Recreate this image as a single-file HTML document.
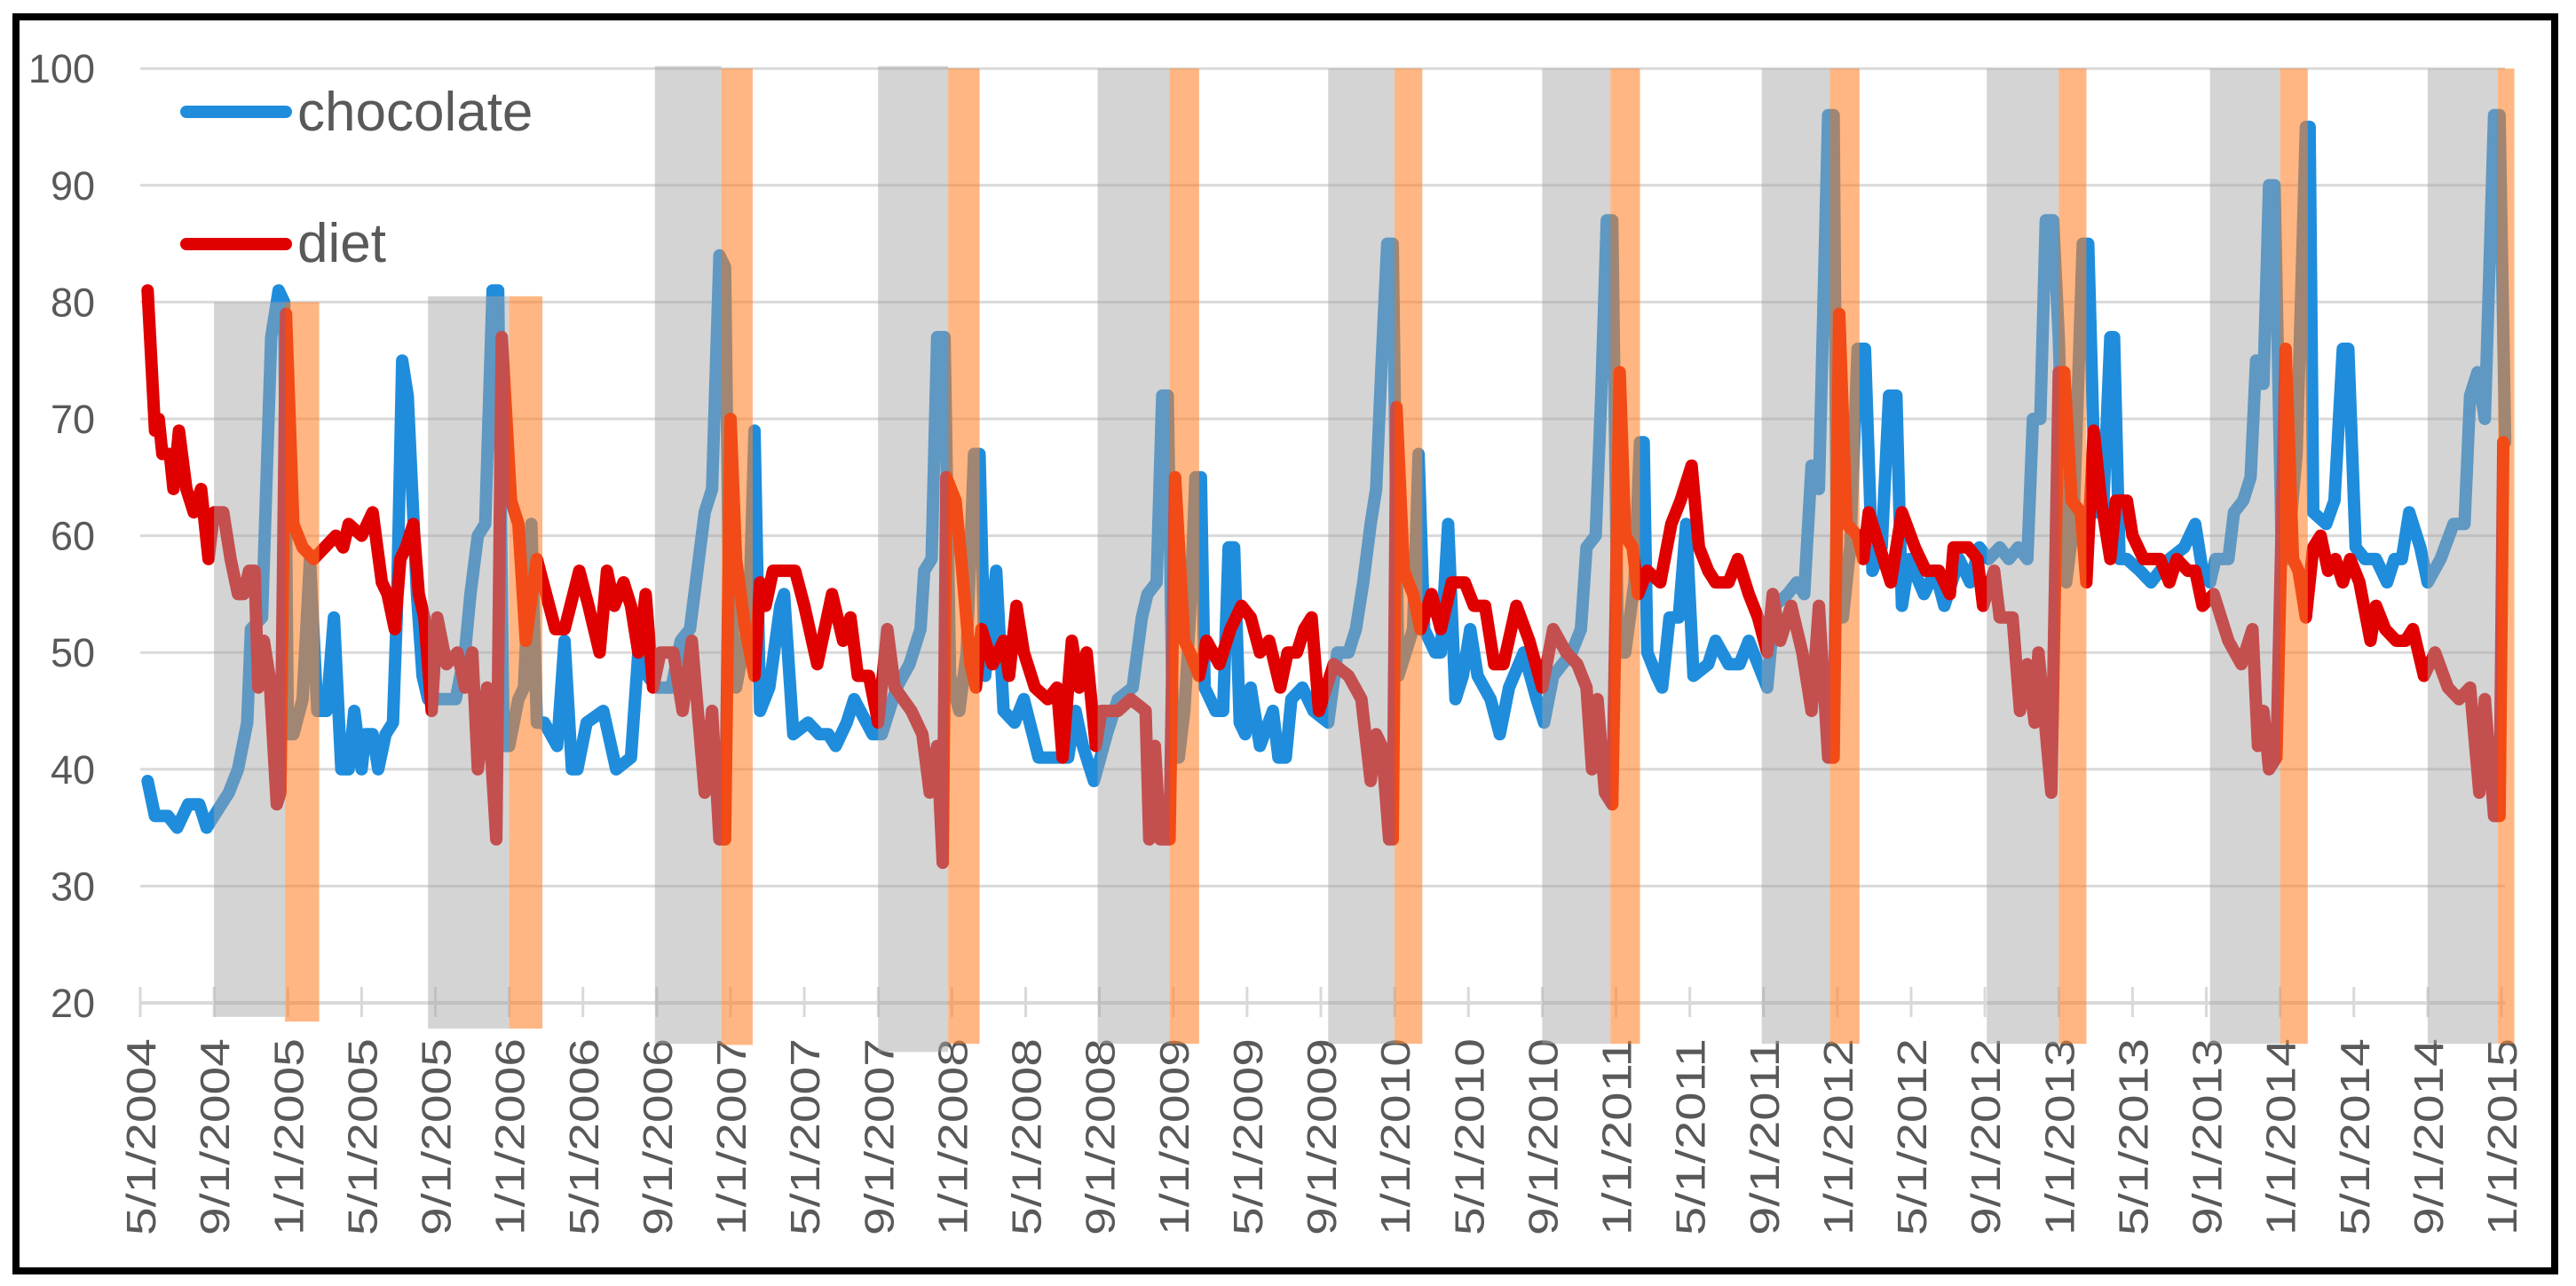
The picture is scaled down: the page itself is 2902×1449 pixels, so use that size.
<!DOCTYPE html>
<html><head><meta charset="utf-8"><style>
html,body{margin:0;padding:0;background:#fff;}
svg{display:block;}
text{font-family:"Liberation Sans",sans-serif;fill:#595959;}
</style></head><body>
<svg id="chart" width="2902" height="1449" viewBox="0 0 2902 1449" xmlns="http://www.w3.org/2000/svg">
<rect x="0" y="0" width="2902" height="1449" fill="#fff"/>
<g id="grid"></g>
<g id="axis"></g>
<g id="ylabels"></g>
<g id="xlabels"></g>
<g id="series"></g>
<g id="bands"></g>
<g id="legend">
  <line x1="210" y1="126" x2="322" y2="126" stroke="#1f8ddc" stroke-width="14" stroke-linecap="round"/>
  <text x="335" y="147" font-size="62">chocolate</text>
  <line x1="210" y1="275" x2="322" y2="275" stroke="#e00000" stroke-width="14" stroke-linecap="round"/>
  <text x="335" y="295" font-size="62">diet</text>
</g>
<rect x="18" y="19" width="2860" height="1413" fill="none" stroke="#000" stroke-width="8"/>
</svg>
<script>
const yTicks = [20,30,40,50,60,70,80,90,100];
const xTickLabels = ["5/1/2004","9/1/2004","1/1/2005","5/1/2005","9/1/2005","1/1/2006","5/1/2006","9/1/2006","1/1/2007","5/1/2007","9/1/2007","1/1/2008","5/1/2008","9/1/2008","1/1/2009","5/1/2009","9/1/2009","1/1/2010","5/1/2010","9/1/2010","1/1/2011","5/1/2011","9/1/2011","1/1/2012","5/1/2012","9/1/2012","1/1/2013","5/1/2013","9/1/2013","1/1/2014","5/1/2014","9/1/2014","1/1/2015"];
// months since 5/1/2004
const chocMonths = [0.4,0.8,1.5,2.0,2.6,3.2,3.6,4.0,4.8,5.3,5.8,6.0,6.6,7.1,7.5,7.8,8.0,8.3,8.8,9.2,9.6,10.1,10.5,10.9,11.3,11.6,12.0,12.2,12.6,12.9,13.3,13.7,13.9,14.2,14.5,15.0,15.3,15.6,16.3,17.1,17.6,17.9,18.3,18.7,19.1,19.4,19.7,20.0,20.5,20.8,21.2,21.5,21.9,22.6,23.0,23.4,23.7,24.2,25.1,25.8,26.6,27.0,27.5,28.0,28.8,29.3,29.8,30.2,30.6,31.0,31.4,31.7,31.9,32.3,33.0,33.3,33.6,34.1,34.7,34.9,35.4,36.2,36.8,37.3,37.7,38.3,38.7,39.7,40.2,41.0,41.7,42.3,42.5,42.9,43.2,43.6,43.9,44.4,44.8,45.2,45.5,45.8,46.4,46.8,47.4,47.9,48.7,49.5,50.3,50.7,51.1,51.7,52.4,53.0,53.8,54.3,54.6,55.1,55.4,55.7,56.0,56.3,56.6,56.9,57.2,57.5,57.7,58.3,58.7,59.0,59.3,59.6,59.9,60.2,60.7,61.4,61.7,62.1,62.4,63.0,63.6,64.4,64.9,65.5,65.9,66.3,66.7,67.0,67.3,67.6,67.9,68.2,68.6,69.0,69.3,69.6,70.2,70.5,70.9,71.3,71.7,72.1,72.5,73.2,73.7,74.2,75.0,75.7,76.1,76.6,77.6,78.1,78.4,78.9,79.2,79.5,79.8,80.1,80.5,81.0,81.3,81.5,81.7,82.2,82.5,82.9,83.4,83.8,84.2,85.0,85.4,86.1,86.7,87.2,87.7,88.2,88.6,89.3,89.8,90.2,90.6,91.0,91.5,91.8,92.0,92.3,92.7,93.1,93.5,93.9,94.4,94.8,95.2,95.5,95.9,96.7,97.3,97.8,98.6,99.2,99.7,100.2,100.8,101.3,101.8,102.3,102.6,103.0,103.3,103.7,104.0,104.4,104.8,105.3,105.6,106.0,106.4,106.8,107.0,107.3,107.7,108.4,109.0,110.0,110.8,111.4,111.8,112.2,112.5,113.2,113.5,114.0,114.4,114.7,115.1,115.4,115.7,116.1,116.4,116.9,117.4,117.6,117.8,118.5,118.95,119.4,119.7,120.1,120.6,121.2,121.8,122.2,122.6,123.0,123.6,124.0,124.7,125.4,126.0,126.3,126.7,127.1,127.6,127.9,128.2];
const chocValues = [39,36,36,35,37,37,35,36,38,40,44,52,53,77,81,80,43,43,46,58,45,45,53,40,40,45,40,43,43,40,43,44,53,75,72,55,48,46,46,46,50,55,60,61,81,81,42,42,46,47,61,44,44,42,51,40,40,44,45,40,41,50,48,47,47,51,52,57,62,64,84,83,58,47,53,69,45,47,54,55,43,44,43,43,42,44,46,43,43,47,49,52,57,58,77,77,48,45,50,67,67,48,57,45,44,46,41,41,41,45,42,39,43,46,47,53,55,56,72,72,41,41,45,53,65,65,47,45,45,59,59,44,43,47,42,45,41,41,46,47,45,44,50,50,52,56,61,64,75,85,85,48,50,52,67,52,50,50,61,46,48,52,48,46,43,47,50,46,44,48,50,52,59,60,72,87,87,50,50,56,68,68,50,48,47,53,53,61,48,49,51,49,49,51,49,47,54,55,56,55,66,64,96,96,53,53,59,76,76,57,59,72,72,54,58,55,57,54,58,56,59,58,59,58,59,58,70,70,87,87,77,56,61,85,85,62,62,77,77,58,58,57,56,58,59,61,57,56,58,58,62,63,65,75,73,90,90,58,58,67,95,95,62,61,63,76,76,59,58,58,56,58,58,62,59,56,58,61,61,72,74,70,96,96,68];
const dietMonths = [0.4,0.8,1.0,1.2,1.6,1.8,2.1,2.5,2.9,3.3,3.7,4.0,4.5,4.9,5.3,5.6,5.9,6.2,6.4,6.7,7.0,7.4,7.6,7.9,8.3,8.8,9.4,10.0,10.6,11.0,11.3,12.0,12.6,13.1,13.4,13.8,14.1,14.4,14.8,15.1,15.4,15.8,16.1,16.6,17.2,17.6,18.0,18.3,18.8,19.3,19.6,20.1,20.5,20.9,21.5,22.0,22.5,23.0,23.8,24.3,24.9,25.3,25.7,26.2,26.6,27.0,27.4,27.8,28.2,28.9,29.4,29.9,30.6,31.0,31.4,31.7,32.0,32.3,32.8,33.3,33.6,33.9,34.3,34.9,35.5,36.0,36.7,37.5,38.1,38.5,38.9,39.5,40.0,40.5,40.9,41.8,42.4,42.8,43.2,43.5,43.7,44.2,44.5,45.0,45.3,45.6,46.2,46.8,47.1,47.5,47.9,48.5,49.2,49.7,50.0,50.5,50.9,51.3,51.8,52.1,53.0,53.7,54.5,54.7,55.0,55.3,55.8,56.1,56.6,56.9,57.4,57.8,58.5,59.1,59.7,60.2,60.7,61.2,61.8,62.2,62.7,63.1,63.5,63.9,64.7,65.5,66.2,66.7,67.0,67.3,67.7,67.9,68.1,68.5,69.0,69.4,70.0,70.5,71.1,71.8,72.3,72.9,73.4,73.9,74.6,75.3,76.0,76.6,77.3,77.9,78.4,78.7,79.0,79.4,79.8,80.2,80.5,80.9,81.2,81.7,82.4,83.0,83.5,84.1,84.5,85.0,85.4,86.1,86.6,87.2,87.7,88.2,88.5,88.9,89.5,90.1,90.6,91.0,91.5,91.8,92.1,92.5,93.1,93.4,93.7,94.3,94.9,95.5,96.2,96.8,97.5,98.1,98.3,99.1,99.6,99.9,100.5,100.8,101.5,101.9,102.3,102.7,102.9,103.2,103.6,104.0,104.3,104.7,105.2,105.5,105.9,106.3,106.8,107.1,107.7,108.0,108.6,109.5,110.0,110.4,111.0,111.4,111.8,112.4,113.2,113.9,114.5,114.8,115.1,115.4,115.8,116.3,116.7,117.0,117.4,117.8,118.2,118.6,119.0,119.4,119.8,120.3,120.9,121.2,121.7,122.3,122.8,123.2,123.8,124.4,125.1,125.7,126.3,126.8,127.1,127.6,127.9,128.1];
const dietValues = [81,69,70,67,67,64,69,64,62,64,58,62,62,58,55,55,57,57,47,51,48,37,38,79,61,59,58,59,60,59,61,60,62,56,55,52,58,59,61,55,53,45,53,49,50,47,50,40,47,34,77,63,61,51,58,55,52,52,57,54,50,57,54,56,54,50,55,47,50,50,45,51,38,45,34,34,70,58,52,48,56,54,57,57,57,54,49,55,51,53,48,48,44,52,47,45,43,38,42,32,65,63,58,49,47,52,49,51,48,54,50,47,46,47,41,51,47,50,42,45,45,46,45,34,42,34,34,65,51,50,48,51,49,52,54,53,50,51,47,50,50,52,53,45,49,48,46,39,43,42,34,34,71,57,55,52,55,52,56,56,54,54,49,49,54,51,47,52,50,49,47,40,46,38,37,74,60,59,55,57,56,61,63,66,59,57,56,56,58,55,53,50,55,51,54,50,45,54,41,41,79,61,60,58,62,59,56,62,59,57,57,55,59,59,58,54,57,53,53,45,49,44,50,45,38,74,74,63,62,56,69,63,58,63,63,60,58,58,56,58,57,57,54,55,51,49,52,42,45,40,41,76,58,57,53,59,60,57,58,56,58,56,51,54,52,51,51,52,48,50,47,46,47,38,46,36,36,68];
// season bands: start month, end month, top value, bottom value
const grayStart = [4.0,15.6,27.9,40.0,51.9,64.4,76.0,87.9,100.1,112.2,124.0];
const grayEnd   = [7.85,20.0,31.5,43.8,55.8,68.0,79.7,91.6,104.0,116.0,127.8];
const grayTop   = [80,80.5,100.2,100.2,100,100,100,100,100,100,100];
const grayBottom= [18.8,17.8,16.5,15.8,16.5,16.5,16.5,16.5,16.5,16.5,16.5];
const orangeStart = [7.85,20.0,31.5,43.8,55.8,68.0,79.7,91.6,104.0,116.0,127.8];
const orangeEnd   = [9.7,21.8,33.2,45.5,57.4,69.5,81.3,93.2,105.5,117.5,128.7];
const orangeTop   = [80,80.5,100,100,100,100,100,100,100,100,100];
const orangeBottom= [18.4,17.8,16.4,16.5,16.5,16.5,16.5,16.5,16.5,16.5,16.5];

const NS = "http://www.w3.org/2000/svg";
const X0 = 158, X1 = 2818, MONTHS = 128;
function xScale(m){ return X0 + m * (X1 - X0) / MONTHS; }
function yScale(v){ return 1130 - (v - 20) * 131.6 / 10; }
function mk(tag, attrs, parent){
  const el = document.createElementNS(NS, tag);
  for (const k in attrs) el.setAttribute(k, attrs[k]);
  parent.appendChild(el);
  return el;
}
const grid = document.getElementById('grid');
const ylabels = document.getElementById('ylabels');
yTicks.forEach(v => {
  if (v > 20) {
    const l = mk('line', {x1: X0, x2: 2822, y1: yScale(v), y2: yScale(v), stroke: '#d9d9d9', 'stroke-width': 3}, grid);
    
    
  }
  const t = mk('text', {x: 107, y: yScale(v) + 16, 'font-size': 45, 'text-anchor': 'end'}, ylabels);
  t.textContent = v;
  
  
});
const axis = document.getElementById('axis');
const al = mk('line', {x1: X0, x2: 2822, y1: yScale(20), y2: yScale(20), stroke: '#d9d9d9', 'stroke-width': 4}, axis);


const xlabels = document.getElementById('xlabels');
xTickLabels.forEach((lab, i) => {
  const x = xScale(i * 4);
  const tk = mk('line', {x1: x, x2: x, y1: 1112, y2: 1146, stroke: '#d9d9d9', 'stroke-width': 3}, axis);
  
  
  const t = mk('text', {x: 0, y: 0, 'font-size': 46, 'text-anchor': 'end', textLength: 222, lengthAdjust: 'spacingAndGlyphs', transform: 'translate(' + (x + 17) + ',1170) rotate(-90)'}, xlabels);
  t.textContent = lab;
  
  
});
const series = document.getElementById('series');
function pathFor(ms, vs){
  return ms.map((m, i) => (i ? 'L' : 'M') + xScale(m).toFixed(1) + ' ' + yScale(vs[i]).toFixed(1)).join(' ');
}
const pc = mk('path', {d: pathFor(chocMonths, chocValues), fill: 'none', stroke: '#1f8ddc', 'stroke-width': 14, 'stroke-linejoin': 'round', 'stroke-linecap': 'round'}, series);


const pd = mk('path', {d: pathFor(dietMonths, dietValues), fill: 'none', stroke: '#e00000', 'stroke-width': 14, 'stroke-linejoin': 'round', 'stroke-linecap': 'round'}, series);


const bands = document.getElementById('bands');
grayStart.forEach((s, i) => {
  const r = mk('rect', {x: xScale(s), y: yScale(grayTop[i]), width: xScale(grayEnd[i]) - xScale(s), height: yScale(grayBottom[i]) - yScale(grayTop[i]), fill: 'rgb(165,165,165)', 'fill-opacity': 0.48}, bands);
  
  
});
orangeStart.forEach((s, i) => {
  const r = mk('rect', {x: xScale(s), y: yScale(orangeTop[i]), width: xScale(orangeEnd[i]) - xScale(s), height: yScale(orangeBottom[i]) - yScale(orangeTop[i]), fill: 'rgb(255,130,40)', 'fill-opacity': 0.58}, bands);
  
  
});
</script>
</body></html>
